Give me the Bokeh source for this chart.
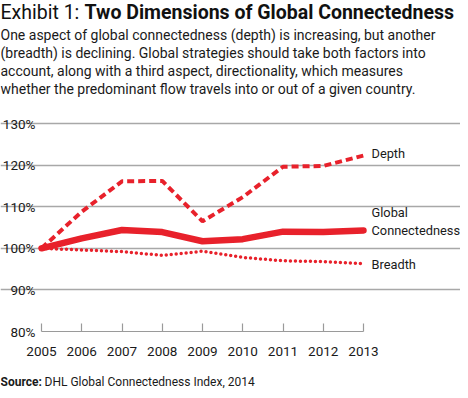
from bokeh.plotting import figure
from bokeh.models import Range1d, Label, FixedTicker, CustomJSTickFormatter
from bokeh.embed import file_html
from bokeh.resources import INLINE

years = [2005, 2006, 2007, 2008, 2009, 2010, 2011, 2012, 2013]
depth = [100.0, 108.8, 116.1, 116.2, 106.5, 112.3, 119.6, 119.8, 122.3]
global_conn = [100.0, 102.4, 104.4, 103.9, 101.7, 102.2, 104.0, 103.9, 104.3]
breadth = [100.0, 99.6, 99.2, 98.3, 99.3, 97.8, 97.0, 96.8, 96.3]
y_ticks = [80, 90, 100, 110, 120, 130]

title_a = "Exhibit 1: "
title_b = "Two Dimensions of Global Connectedness"
caption = [
    "One aspect of global connectedness (depth) is increasing, but another",
    "(breadth) is declining. Global strategies should take both factors into",
    "account, along with a third aspect, directionality, which measures",
    "whether the predominant flow travels into or out of a given country.",
]
source_a = "Source:"
source_b = " DHL Global Connectedness Index, 2014"
series_labels = ["Depth", "Global", "Connectedness", "Breadth"]

RED = "#e8212b"
FONT = "Roboto"
W, H = 460, 390

# frame covers the whole canvas; axes are pinned inside it
X0, X1 = 41, 363          # pixel positions of 2005 and 2013
Y80, Y130 = 331, 123      # pixel positions of 80% and 130%
xs = (X1 - X0) / (years[-1] - years[0])
ys = (Y80 - Y130) / (130 - 80)
x_range = Range1d(years[0] - X0 / xs, years[-1] + (W - X1) / xs)
y_range = Range1d(80 - (H - Y80) / ys, 130 + Y130 / ys)

p = figure(width=W, height=H, output_backend="svg", toolbar_location=None,
           x_range=x_range, y_range=y_range, min_border=0,
           min_border_left=0, min_border_right=0, min_border_top=0, min_border_bottom=0)
p.outline_line_color = None
p.background_fill_color = "white"
p.border_fill_color = "white"

p.line(years, depth, color=RED, line_width=4, line_dash="7 4")
p.line(years, breadth, color=RED, line_width=3.5, line_dash="0 5", line_cap="round")
p.line(years, global_conn, color=RED, line_width=6.5, line_cap="round", line_join="round")

# axes
p.xaxis.fixed_location = 80
p.xaxis.bounds = (years[0], years[-1])
p.xaxis.ticker = FixedTicker(ticks=years)
p.xaxis.formatter = CustomJSTickFormatter(code="return tick.toFixed(0)")
p.xaxis.axis_line_color = "#9a9a9a"
p.xaxis.axis_line_width = 1.2
p.xaxis.major_tick_line_color = "#9a9a9a"
p.xaxis.major_tick_line_width = 1.2
p.xaxis.major_tick_in = 8
p.xaxis.major_tick_out = 0
p.xaxis.minor_tick_line_color = None
p.xaxis.major_label_standoff = 15
p.xaxis.major_label_text_font = FONT
p.xaxis.major_label_text_font_size = "13.5px"
p.xaxis.major_label_text_color = "#1a1a1a"

p.yaxis.fixed_location = years[0]
p.yaxis.bounds = (80, 130)
p.yaxis.ticker = FixedTicker(ticks=y_ticks)
p.yaxis.formatter = CustomJSTickFormatter(code="return tick.toFixed(0) + '%'")
p.yaxis.axis_line_color = None
p.yaxis.major_tick_line_color = None
p.yaxis.minor_tick_line_color = None
p.yaxis.major_tick_in = 0
p.yaxis.major_tick_out = 0
p.yaxis.major_label_standoff = 6
p.yaxis.major_label_text_font = FONT
p.yaxis.major_label_text_font_size = "13.5px"
p.yaxis.major_label_text_color = "#1a1a1a"

p.xgrid.grid_line_color = None
p.ygrid.ticker = FixedTicker(ticks=y_ticks[1:])
p.ygrid.bounds = (years[0], years[-1])
p.ygrid.grid_line_color = "#a8a8a8"
p.ygrid.grid_line_width = 1.3


def lab(text, px, py, size, style="normal", color="#1a1a1a", align="left"):
    # px, py: canvas position (vertical middle of the text)
    p.add_layout(Label(x=px, y=py, x_units="canvas", y_units="canvas",
                       text=text, text_font=FONT, text_font_size=size,
                       text_font_style=style, text_color=color,
                       text_baseline="middle", text_align=align))


lab(title_a, 0, 12, "19.5px", color="#111111")
lab(title_b, 84, 12, "19.5px", style="bold", color="#111111")
for i, line in enumerate(caption):
    lab(line, 0, 34 + i * 18, "14px", color="#1a1a1a")

lab(series_labels[0], 371, 153, "12.8px")
lab(series_labels[1], 371, 212, "12.8px")
lab(series_labels[2], 371, 230, "12.8px")
lab(series_labels[3], 371, 264, "12.8px")

lab(source_a, 0, 381, "12px", style="bold")
lab(source_b, 44, 381, "12px")

open("out.html", "w").write(file_html(p, INLINE))
